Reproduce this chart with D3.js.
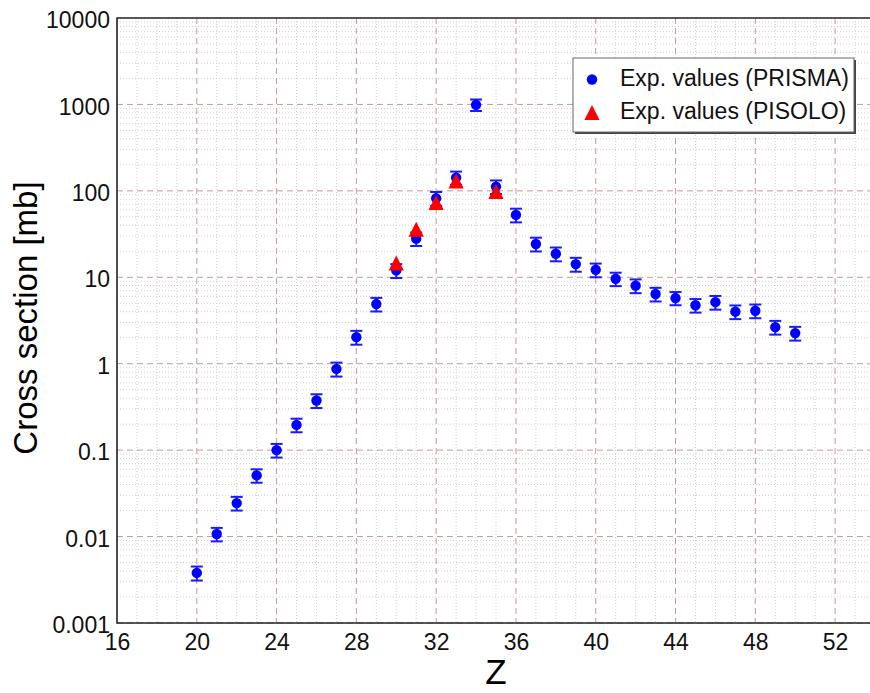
<!DOCTYPE html>
<html>
<head>
<meta charset="utf-8">
<script src="https://cdn.jsdelivr.net/npm/d3@7"></script>
<style>
  html, body { margin: 0; padding: 0; background: #fff; }
  svg { display: block; font-family: "Liberation Sans", Arial, Helvetica, sans-serif; }
</style>
</head>
<body>
<svg id="chart" width="870" height="693"></svg>
<script>
// PRISMA measurements: atomic number Z, cross section [mb], uncertainty [mb]
const prismaZ = [20, 21, 22, 23, 24, 25, 26, 27, 28, 29, 30, 31, 32, 33, 34, 35,
                 36, 37, 38, 39, 40, 41, 42, 43, 44, 45, 46, 47, 48, 49, 50];
const prismaSigma = [0.0038, 0.0107, 0.0244, 0.051, 0.100, 0.196, 0.375, 0.87, 2.03, 4.9,
                     12.0, 28, 82, 142, 990, 112, 52.7, 24.3, 18.7, 14.2, 12.2, 9.6, 8.0,
                     6.4, 5.75, 4.75, 5.15, 4.0, 4.1, 2.65, 2.26];
const prismaErr = [0.0007, 0.0019, 0.0044, 0.009, 0.018, 0.035, 0.068, 0.16, 0.37, 0.88,
                   2.2, 5, 15, 25, 150, 20, 9.5, 4.4, 3.4, 2.6, 2.2, 1.7, 1.45,
                   1.15, 1.0, 0.85, 0.93, 0.72, 0.74, 0.48, 0.41];

// PISOLO measurements
const pisoloZ = [30, 31, 32, 33, 35];
const pisoloSigma = [14.6, 36, 73.5, 130, 98];

// Axis ticks
const xTicks = [16, 20, 24, 28, 32, 36, 40, 44, 48, 52];
const yTicks = [0.001, 0.01, 0.1, 1, 10, 100, 1000, 10000];
const yTickLabels = ["0.001", "0.01", "0.1", "1", "10", "100", "1000", "10000"];

const legendLabels = ["Exp. values (PRISMA)", "Exp. values (PISOLO)"];

const svg = d3.select("#chart");
const plotLeft = 117, plotTop = 18, plotBottom = 623, plotRight = 870;

const x = d3.scaleLinear().domain([16, 54]).range([plotLeft, 875]);
const y = d3.scaleLog().domain([0.001, 10000]).range([plotBottom, plotTop]);

const grid = svg.append("g");

// minor grid (dotted)
const minorX = d3.range(17, 55).filter(v => v % 4 !== 0);
const minorY = [];
for (let e = -3; e < 4; e++) for (let m = 2; m <= 9; m++) minorY.push(m * Math.pow(10, e));

grid.append("g").selectAll("line").data(minorX).join("line")
  .attr("x1", d => x(d)).attr("x2", d => x(d)).attr("y1", plotTop).attr("y2", plotBottom)
  .attr("stroke", "#cfcfcf").attr("stroke-width", 1).attr("stroke-dasharray", "1,2");
grid.append("g").selectAll("line").data(minorY).join("line")
  .attr("x1", plotLeft).attr("x2", plotRight).attr("y1", d => y(d)).attr("y2", d => y(d))
  .attr("stroke", "#cfcfcf").attr("stroke-width", 1).attr("stroke-dasharray", "1,2");

// major grid (dashed)
grid.append("g").selectAll("line").data(xTicks.slice(1)).join("line")
  .attr("x1", d => x(d)).attr("x2", d => x(d)).attr("y1", plotTop).attr("y2", plotBottom)
  .attr("stroke", "#c49a9a").attr("stroke-width", 1).attr("stroke-dasharray", "6,4");
grid.append("g").selectAll("line").data(yTicks.slice(0, -1)).join("line")
  .attr("x1", plotLeft).attr("x2", plotRight).attr("y1", d => y(d)).attr("y2", d => y(d))
  .attr("stroke", "#c49a9a").attr("stroke-width", 1).attr("stroke-dasharray", "6,4");

// axes
const yAxis = d3.axisLeft(y).tickValues(yTicks)
  .tickFormat((d, i) => yTickLabels[i]).tickSize(0).tickPadding(7);
const gy = svg.append("g").attr("transform", `translate(${plotLeft},0)`).call(yAxis);
gy.select(".domain").remove();
gy.selectAll("text").attr("dy", "0.42em")
  .attr("font-size", 23).attr("font-family", "Liberation Sans, Arial, sans-serif").attr("fill", "#111");

const xAxis = d3.axisBottom(x).tickValues(xTicks).tickFormat(d3.format("d")).tickSize(0).tickPadding(11);
const gx = svg.append("g").attr("transform", `translate(0,${plotBottom})`).call(xAxis);
gx.select(".domain").remove();
gx.selectAll("text")
  .attr("font-size", 23).attr("font-family", "Liberation Sans, Arial, sans-serif").attr("fill", "#111");

// frame
svg.append("path")
  .attr("d", `M${plotRight},${plotTop}H${plotLeft}V${plotBottom}H${plotRight}`)
  .attr("fill", "none").attr("stroke", "#222").attr("stroke-width", 1.6);

// axis titles
svg.append("text").attr("x", 496).attr("y", 684).attr("text-anchor", "middle")
  .attr("font-size", 35).attr("fill", "#000").text("Z");
svg.append("text").attr("transform", "translate(37,318) rotate(-90)")
  .attr("text-anchor", "middle").attr("font-size", 33).attr("fill", "#000")
  .text("Cross section [mb]");

// PRISMA error bars and markers
const prisma = prismaZ.map((z, i) => ({ z, v: prismaSigma[i], e: prismaErr[i] }));
const eb = svg.append("g").attr("stroke", "#1a1aff").attr("stroke-width", 2);
prisma.forEach(d => {
  const xc = x(d.z), yHi = y(d.v + d.e), yLo = y(d.v - d.e);
  eb.append("line").attr("x1", xc).attr("x2", xc).attr("y1", yHi).attr("y2", yLo);
  eb.append("line").attr("x1", xc - 6).attr("x2", xc + 6).attr("y1", yHi).attr("y2", yHi);
  eb.append("line").attr("x1", xc - 6).attr("x2", xc + 6).attr("y1", yLo).attr("y2", yLo);
});
svg.append("g").selectAll("circle").data(prisma).join("circle")
  .attr("cx", d => x(d.z)).attr("cy", d => y(d.v)).attr("r", 5.2).attr("fill", "#0000ff");

// PISOLO triangles (bounding box centred on the value)
const tri = "M0,-7.5L7.6,7.5L-7.6,7.5Z";
const pisolo = pisoloZ.map((z, i) => ({ z, v: pisoloSigma[i] }));
svg.append("g").selectAll("path").data(pisolo).join("path")
  .attr("d", tri).attr("transform", d => `translate(${x(d.z)},${y(d.v)})`)
  .attr("fill", "#ff0000");

// legend
const lg = svg.append("g");
lg.append("rect").attr("x", 575).attr("y", 60).attr("width", 281).attr("height", 74).attr("fill", "#444");
lg.append("rect").attr("x", 573).attr("y", 58).attr("width", 281).attr("height", 74)
  .attr("fill", "#fff").attr("stroke", "#666").attr("stroke-width", 1);
lg.append("circle").attr("cx", 592).attr("cy", 79.5).attr("r", 5.2).attr("fill", "#0000ff");
lg.append("path").attr("d", tri).attr("transform", "translate(592,112.5)").attr("fill", "#ff0000");
lg.selectAll("text").data(legendLabels).join("text")
  .attr("x", 620).attr("y", (d, i) => 86 + i * 33)
  .attr("font-size", 23).attr("fill", "#111").text(d => d);
</script>
</body>
</html>
